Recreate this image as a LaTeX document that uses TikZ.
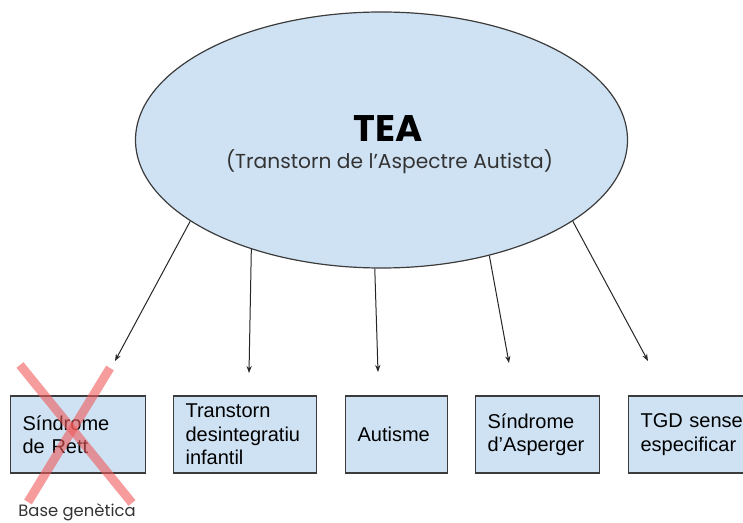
\documentclass[tikz,border=0pt]{standalone}
\usepackage{fontspec}
\setmainfont{Liberation Sans}
\newfontfamily\popfont{Poppins}
\usepackage{xcolor}
\usetikzlibrary{arrows.meta, positioning, shapes.geometric}
\definecolor{paleblue}{RGB}{207,226,243}
\definecolor{edgegray}{RGB}{60,60,60}
\definecolor{crossred}{RGB}{240,90,90}

\begin{document}
\begin{tikzpicture}[x=0.5pt, y=-0.5pt,
    subtype/.style={draw=edgegray, fill=paleblue, line width=0.6pt, rectangle,
      anchor=west, minimum height=38.5pt, inner xsep=6pt, inner ysep=0pt,
      align=left, font=\fontsize{10}{11.7}\selectfont},
    branch/.style={-{Stealth[length=3.5pt, width=2.6pt]}, line width=0.5pt, black!85}]
  \useasboundingbox (0,0) rectangle (743,523);
  \clip (0,0) rectangle (743,523);
  % Central ellipse
  \node[ellipse, draw=edgegray, fill=paleblue, line width=0.6pt,
        minimum width=246pt, minimum height=128pt] (tea) at (381.5,140) {};
  \node[font=\popfont\bfseries\fontsize{18.5}{22}\selectfont] (teatitle) at (388.5,129) {TEA};
  \node[font=\popfont\fontsize{10.1}{12}\selectfont, text=black!80] (teasub) at (389.5,162)
    {(Transtorn de l’Aspectre Autista)};
  % The five subtypes
  \node[subtype, minimum width=67.5pt, text width=55.5pt] (rett) at (10,434.5)
    {Síndrome\\de Rett};
  \node[subtype, minimum width=71.5pt, text width=59.5pt] (tdi) at (173,434.5)
    {Transtorn\\desintegratiu\\infantil};
  \node[subtype, minimum width=51pt, text width=39pt] (aut) at (345,434.5)
    {Autisme};
  \node[subtype, minimum width=62pt, text width=50pt] (asp) at (475,434.5)
    {Síndrome\\d’Asperger};
  \node[subtype, minimum width=66pt, text width=54pt] (tgd) at (628,434.5)
    {TGD sense\\especificar};
  % Arrow ends above the boxes
  \coordinate (endrett) at (115,361);
  \coordinate (endtdi) at (249,373);
  \coordinate (endaut) at (378,372);
  \coordinate (endasp) at (509,363);
  \coordinate (endtgd) at (648,361);
  \draw[branch] (tea.203.6) -- (endrett);
  \draw[branch] (tea.220) -- (endtdi);
  \draw[branch] (tea.267.5) -- (endaut);
  \draw[branch] (tea.313.9) -- (endasp);
  \draw[branch] (tea.337.9) -- (endtgd);
  % Crossed out Rett
  \draw[crossred, opacity=0.6, line width=4.5pt] (20,365) -- (132,503);
  \draw[crossred, opacity=0.6, line width=4.5pt] (110,368) -- (28,502);
  \node[font=\popfont\fontsize{8.2}{9}\selectfont, text=black!80] (gen) at (77,512)
    {Base genètica};
\end{tikzpicture}
\end{document}
